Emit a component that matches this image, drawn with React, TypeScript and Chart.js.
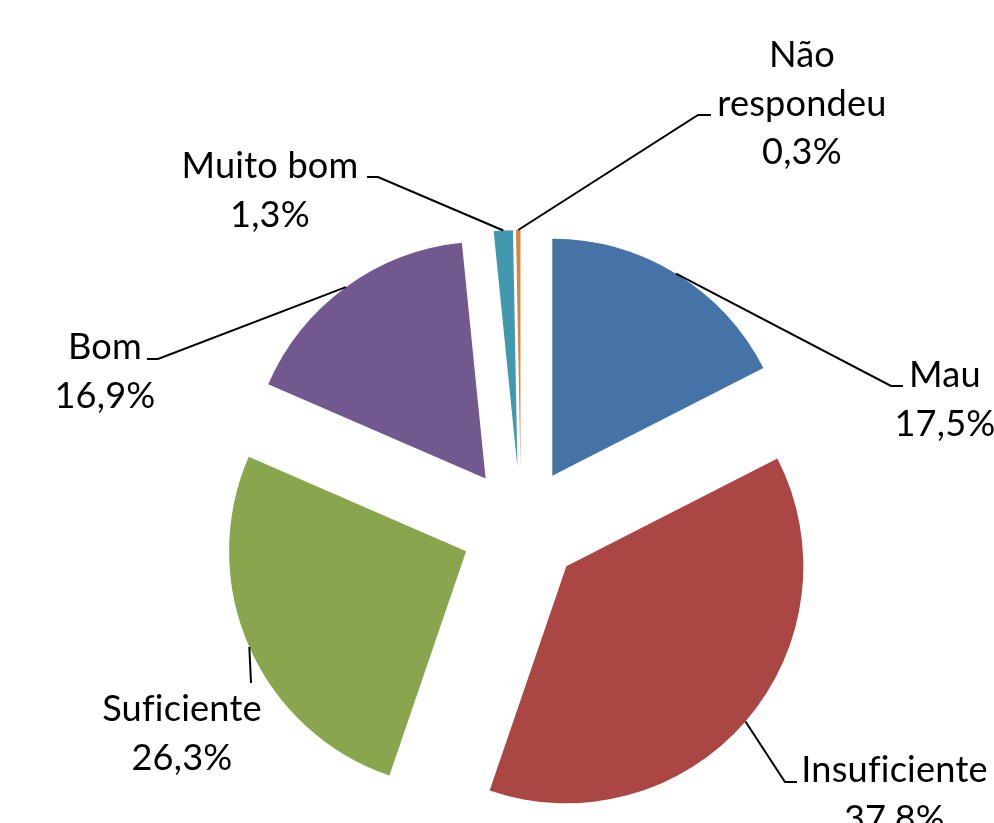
import React, { useEffect, useRef } from "react";
import { Chart, registerables } from "chart.js";

Chart.register(...registerables);

// ---- data ----
const categories = ["Mau", "Insuficiente", "Suficiente", "Bom", "Muito bom", "Não respondeu"];
const labelLines = [["Mau"], ["Insuficiente"], ["Suficiente"], ["Bom"], ["Muito bom"], ["Não", "respondeu"]];
const values = [17.5, 37.8, 26.3, 16.9, 1.3, 0.3];
const valueLabels = ["17,5%", "37,8%", "26,3%", "16,9%", "1,3%", "0,3%"];
const colors = ["#4572A7", "#AA4643", "#89A54E", "#71588F", "#4198AF", "#DB843D"];

// ---- layout (relative to pie centre) ----
const EXPLODE = 60;
const FONT_FAMILY = "Lato";
const LINE_H = 48.5;
const labelLayout = [
  { tx: 424, ty: -140, ex: 370, ey: -141, hx: 12 },
  { tx: 373.5, ty: 255, ex: 264, ey: 255, hx: 12 },
  { tx: -339, ty: 194, ex: -270, ey: 156, hx: 0 },
  { tx: -416, ty: -168, ex: -363, ey: -168, hx: -11 },
  { tx: -251, ty: -349, ex: -143, ey: -350, hx: -11 },
  { tx: 281, ty: -460, ex: 177, ey: -412, hx: 13 },
];

const explodePlugin = {
  id: "explodeLabels",
  beforeDatasetDraw(chart: any, args: any) {
    const ctx = chart.ctx;
    args.meta.data.forEach((arc: any) => {
      const mid = (arc.startAngle + arc.endAngle) / 2;
      ctx.save();
      ctx.translate(Math.cos(mid) * EXPLODE, Math.sin(mid) * EXPLODE);
      arc.draw(ctx);
      ctx.restore();
    });
    return false;
  },
  afterDraw(chart: any) {
    const ctx = chart.ctx;
    const meta = chart.getDatasetMeta(0);
    ctx.save();
    try {
      (ctx as any).letterSpacing = "0.2px";
    } catch (e) {}
    ctx.font = `100px ${FONT_FAMILY}`;
    const w = ctx.measureText("Insuficiente").width;
    const size = (100 * 185) / w;
    ctx.font = `${size}px ${FONT_FAMILY}`;
    ctx.fillStyle = "#000";
    ctx.strokeStyle = "#000";
    ctx.lineWidth = 2;
    ctx.textAlign = "center";
    ctx.textBaseline = "alphabetic";
    meta.data.forEach((arc: any, i: number) => {
      const mid = (arc.startAngle + arc.endAngle) / 2;
      const cx = arc.x;
      const cy = arc.y;
      const r = EXPLODE + arc.outerRadius;
      const ax = cx + Math.cos(mid) * r;
      const ay = cy + Math.sin(mid) * r;
      const L = labelLayout[i];
      const ex = cx + L.ex;
      const ey = cy + L.ey;
      ctx.beginPath();
      ctx.moveTo(ax, ay);
      ctx.lineTo(ex, ey);
      if (L.hx) ctx.lineTo(ex + L.hx, ey);
      ctx.stroke();
      const lines = [...labelLines[i], valueLabels[i]];
      lines.forEach((t, k) => ctx.fillText(t, cx + L.tx, cy + L.ty + k * LINE_H));
    });
    ctx.restore();
  },
};

export default function App() {
  const ref = useRef<HTMLCanvasElement | null>(null);
  useEffect(() => {
    if (!ref.current) return;
    const chart = new Chart(ref.current, {
      type: "pie",
      data: {
        labels: categories,
        datasets: [
          {
            data: values,
            backgroundColor: colors,
            borderWidth: 0,
            offset: 0,
            hoverOffset: 0,
            clip: false as any,
          },
        ],
      },
      options: {
        responsive: false,
        animation: false,
        events: [],
        layout: { padding: { left: 284, right: 236, top: 290, bottom: 59 } },
        plugins: { legend: { display: false }, tooltip: { enabled: false } },
      },
      plugins: [explodePlugin],
    });
    return () => chart.destroy();
  }, []);
  return (
    <div style={{ position: "absolute", left: 0, top: 0, width: 994, height: 823, background: "#fff" }}>
      <canvas ref={ref} width={994} height={823} style={{ display: "block" }} />
    </div>
  );
}
